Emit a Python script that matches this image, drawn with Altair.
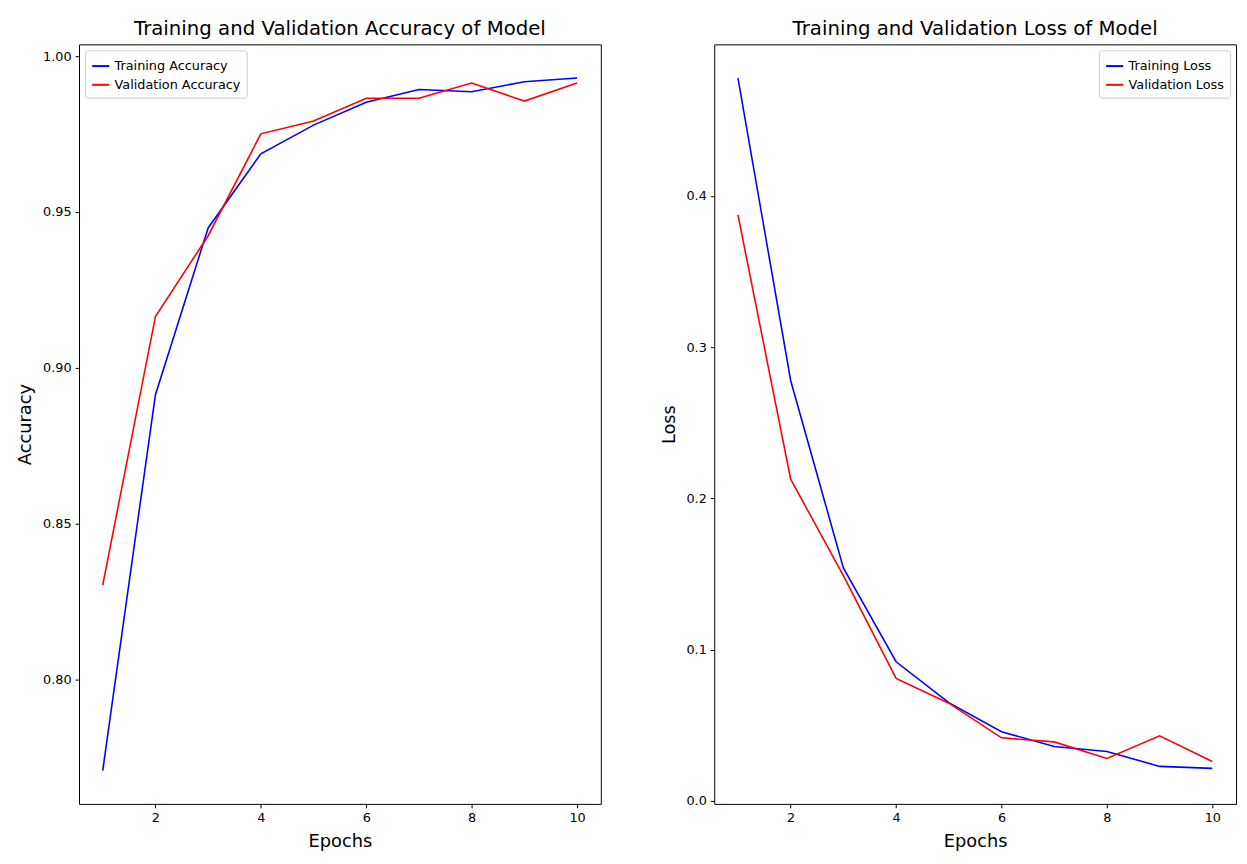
import pandas as pd
import altair as alt

FONT = "DejaVu Sans"

epochs = [1, 2, 3, 4, 5, 6, 7, 8, 9, 10]
train_acc = [0.7708, 0.8914, 0.9449, 0.9687, 0.9779, 0.9852, 0.9893, 0.9886, 0.9918, 0.9930]
val_acc = [0.8303, 0.9165, 0.9424, 0.9751, 0.9792, 0.9865, 0.9865, 0.9914, 0.9856, 0.9914]
train_loss = [0.478, 0.278, 0.154, 0.092, 0.065, 0.0457, 0.036, 0.0326, 0.0228, 0.0215]
val_loss = [0.3875, 0.2127, 0.149, 0.081, 0.0646, 0.0417, 0.039, 0.028, 0.043, 0.026]

acc = pd.DataFrame({
    "epoch": epochs * 2,
    "value": train_acc + val_acc,
    "series": ["Training Accuracy"] * 10 + ["Validation Accuracy"] * 10,
})
loss = pd.DataFrame({
    "epoch": epochs * 2,
    "value": train_loss + val_loss,
    "series": ["Training Loss"] * 10 + ["Validation Loss"] * 10,
})


def panel(df, title, ytitle, ydomain, yvalues, yformat, legend_orient, names):
    return (
        alt.Chart(df, title=alt.Title(title, fontSize=20, fontWeight="normal", font=FONT, offset=6))
        .mark_line(strokeWidth=1.6)
        .encode(
            x=alt.X("epoch:Q", title="Epochs",
                    scale=alt.Scale(domain=[0.55, 10.45], nice=False, zero=False),
                    axis=alt.Axis(values=[2, 4, 6, 8, 10], grid=False)),
            y=alt.Y("value:Q", title=ytitle,
                    scale=alt.Scale(domain=ydomain, nice=False, zero=False),
                    axis=alt.Axis(values=yvalues, format=yformat, grid=False)),
            color=alt.Color("series:N", scale=alt.Scale(domain=names, range=["blue", "red"]),
                            legend=alt.Legend(title=None, orient=legend_orient, strokeColor="#cccccc",
                                              fillColor="white", padding=6, cornerRadius=3,
                                              labelFontSize=13, labelFont=FONT, symbolType="stroke",
                                              symbolSize=300, symbolStrokeWidth=2, offset=6)),
            order="epoch:Q",
        )
        .properties(width=529, height=770)
    )


left = panel(acc, "Training and Validation Accuracy of Model", "Accuracy",
             [0.7601, 1.0038], [0.80, 0.85, 0.90, 0.95, 1.00], ".2f", "top-left",
             ["Training Accuracy", "Validation Accuracy"])
right = panel(loss, "Training and Validation Loss of Model", "Loss",
              [-0.002, 0.5003], [0.0, 0.1, 0.2, 0.3, 0.4], ".1f", "top-right",
              ["Training Loss", "Validation Loss"])

chart = (
    alt.hconcat(left, right, spacing=58)
    .resolve_scale(color="independent")
    .properties(padding={"left": 8, "top": 4, "right": 2, "bottom": 2})
    .configure_view(stroke="black", strokeWidth=1)
    .configure_axis(
        domain=False, tickColor="black", tickSize=4, labelFontSize=13, labelColor="black",
        titleFontSize=18, titleFontWeight="normal", titleColor="black",
        labelFont=FONT, titleFont=FONT, labelPadding=4, titlePadding=8,
    )
)

chart.save("out.html", embed_options={"renderer": "svg", "actions": False})
